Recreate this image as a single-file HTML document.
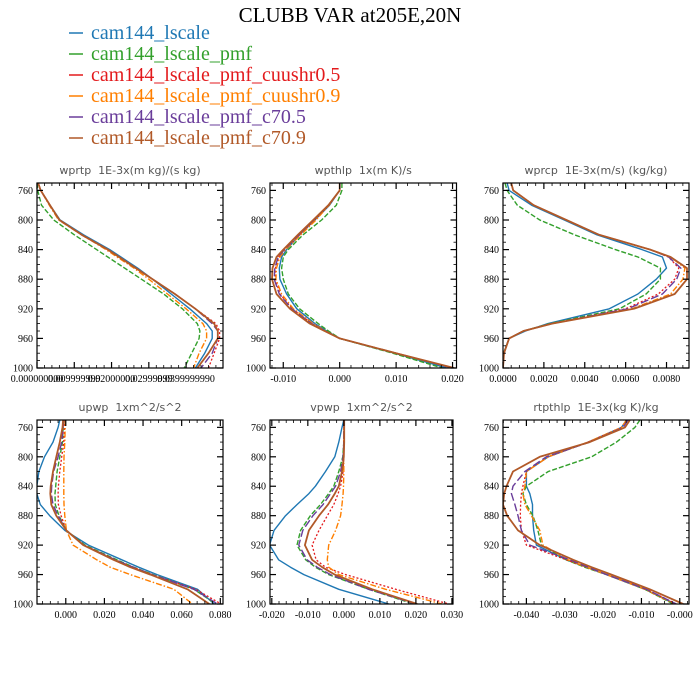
<!DOCTYPE html>
<html><head><meta charset="utf-8"><style>
body{margin:0;background:#fff;width:700px;height:700px;overflow:hidden}
svg{display:block}
.tl{font-family:"Liberation Serif",serif;font-size:10px;fill:#000}
.pt{font-family:"DejaVu Sans","Liberation Sans",sans-serif;font-size:11px;fill:#555;white-space:pre}
.lg{font-family:"Liberation Serif",serif;font-size:20px}
</style></head><body>
<svg id="chart" width="700" height="700" xmlns="http://www.w3.org/2000/svg" xml:space="preserve">
<text x="350" y="22" text-anchor="middle" font-family="Liberation Serif, serif" font-size="21">CLUBB VAR at205E,20N</text>
<g id="legend"></g>
<g id="panels"></g>
</svg>
<script>
const levels=[750,760,780,800,820,840,850,865,880,900,920,940,950,960,980,1000];
const seriesNames=["cam144_lscale","cam144_lscale_pmf","cam144_lscale_pmf_cuushr0.5","cam144_lscale_pmf_cuushr0.9","cam144_lscale_pmf_c70.5","cam144_lscale_pmf_c70.9"];
const panelTitles=["wprtp  1E-3x(m kg)/(s kg)","wpthlp  1x(m K)/s","wprcp  1E-3x(m/s) (kg/kg)","upwp  1xm^2/s^2","vpwp  1xm^2/s^2","rtpthlp  1E-3x(kg K)/kg"];
const yTicks=[760,800,840,880,920,960,1000];
const xTicks1=[0,0.01,0.02,0.03,0.04];
const xTickLabels1=["0.000000000","0.009999999","0.02000000","0.02999999","0.0399999990"];
const xTicks2=[-0.01,0,0.01,0.02];
const xTickLabels2=["-0.010","0.000","0.010","0.020"];
const xTicks3=[0,0.002,0.004,0.006,0.008];
const xTickLabels3=["0.0000","0.0020","0.0040","0.0060","0.0080"];
const xTicks4=[0,0.02,0.04,0.06,0.08];
const xTickLabels4=["0.000","0.020","0.040","0.060","0.080"];
const xTicks5=[-0.02,-0.01,0,0.01,0.02,0.03];
const xTickLabels5=["-0.020","-0.010","0.000","0.010","0.020","0.030"];
const xTicks6=[-0.04,-0.03,-0.02,-0.01,0];
const xTickLabels6=["-0.040","-0.030","-0.020","-0.010","-0.000"];

// wprtp
const wprtp_lscale=[0.0003,0.001,0.0035,0.0062,0.0125,0.0195,0.0225,0.027,0.031,0.036,0.041,0.0455,0.047,0.047,0.045,0.0425];
const wprtp_pmf=[0,0.0002,0.0012,0.0045,0.010,0.016,0.019,0.0235,0.028,0.034,0.039,0.043,0.0437,0.0435,0.0415,0.0395];
const wprtp_cu05=[0.0003,0.001,0.0035,0.006,0.012,0.019,0.022,0.0265,0.031,0.037,0.0425,0.048,0.049,0.049,0.0475,0.046];
const wprtp_cu09=[0.0003,0.001,0.0033,0.0058,0.012,0.0185,0.0215,0.026,0.030,0.035,0.040,0.0445,0.0455,0.0455,0.0435,0.042];
const wprtp_c705=[0.0003,0.001,0.0035,0.006,0.012,0.019,0.022,0.0265,0.031,0.037,0.0425,0.047,0.0485,0.0485,0.047,0.044];
const wprtp_c709=[0.0003,0.001,0.0035,0.006,0.012,0.019,0.022,0.0265,0.031,0.037,0.0425,0.0475,0.0485,0.0485,0.046,0.043];
// wpthlp
const wpthlp_lscale=[0,0,-0.0018,-0.0044,-0.0071,-0.0094,-0.0103,-0.0107,-0.0106,-0.0094,-0.0076,-0.0044,-0.0023,0,0.0097,0.0190];
const wpthlp_pmf=[0.0004,0.0004,-0.0006,-0.0032,-0.0065,-0.0091,-0.0100,-0.0103,-0.0100,-0.0091,-0.0071,-0.0038,-0.0020,0,0.0094,0.0182];
const wpthlp_cu05=[0,0,-0.0019,-0.0045,-0.0071,-0.0097,-0.0108,-0.0114,-0.0114,-0.0106,-0.0084,-0.0049,-0.0026,0,0.0100,0.0200];
const wpthlp_cu09=[0,0,-0.0019,-0.0042,-0.0069,-0.0096,-0.0106,-0.0112,-0.0113,-0.0103,-0.0082,-0.0047,-0.0025,0,0.0100,0.0200];
const wpthlp_c705=[0,0,-0.0020,-0.0046,-0.0072,-0.0098,-0.0109,-0.0115,-0.0116,-0.0107,-0.0085,-0.0050,-0.0026,0,0.0100,0.0200];
const wpthlp_c709=[0,0,-0.0020,-0.0047,-0.0074,-0.0100,-0.0112,-0.0119,-0.0120,-0.0112,-0.0088,-0.0053,-0.0027,0,0.0100,0.0203];
// wprcp
const wprcp_lscale=[0.0002,0.0003,0.0014,0.0030,0.0046,0.0068,0.0078,0.0080,0.0075,0.0066,0.0052,0.0022,0.0011,0.0003,0.00003,0];
const wprcp_pmf=[0.0001,0.0002,0.0007,0.0018,0.0035,0.0055,0.0066,0.0077,0.0077,0.0070,0.0057,0.0023,0.0010,0.0003,0.00003,0];
const wprcp_cu05=[0.0004,0.0005,0.0015,0.0031,0.0047,0.0072,0.0081,0.0086,0.0084,0.0076,0.0060,0.0024,0.0010,0.0003,0.00005,0];
const wprcp_cu09=[0.0004,0.0005,0.0015,0.0031,0.0047,0.0072,0.0082,0.0089,0.0088,0.0082,0.0063,0.0024,0.0010,0.0003,0.00005,0];
const wprcp_c705=[0.0004,0.0005,0.0015,0.0031,0.0047,0.0072,0.0081,0.0087,0.0085,0.0078,0.0061,0.0024,0.0010,0.0003,0.00005,0];
const wprcp_c709=[0.0004,0.0005,0.0015,0.0031,0.0047,0.0072,0.0082,0.0090,0.0090,0.0084,0.0064,0.0024,0.0010,0.0003,0.00005,0];
// upwp
const upwp_lscale=[-0.0031,-0.0040,-0.0066,-0.0110,-0.0139,-0.0150,-0.0150,-0.0132,-0.0083,-0.0005,0.0117,0.0290,0.0377,0.0473,0.0682,0.0769];
const upwp_pmf=[-0.0010,-0.0014,-0.0017,-0.0031,-0.0045,-0.0052,-0.0056,-0.0054,-0.0035,0.0003,0.0099,0.0264,0.0351,0.0452,0.0664,0.0777];
const upwp_cu05=[-0.0005,-0.0007,-0.0010,-0.0021,-0.0031,-0.0038,-0.0040,-0.0038,-0.0024,0.0003,0.0094,0.0256,0.0348,0.0447,0.0673,0.0804];
const upwp_cu09=[-0.0003,-0.0003,-0.0005,-0.0009,-0.0010,-0.0010,-0.0010,-0.0009,-0.0005,0.0003,0.0038,0.0160,0.0230,0.0334,0.0560,0.0656];
const upwp_c705=[-0.0010,-0.0014,-0.0021,-0.0040,-0.0063,-0.0073,-0.0075,-0.0066,-0.0040,0.0003,0.0094,0.0256,0.0348,0.0447,0.0664,0.0786];
const upwp_c709=[-0.0014,-0.0017,-0.0031,-0.0049,-0.0066,-0.0078,-0.0080,-0.0075,-0.0049,0.0003,0.0090,0.0247,0.0334,0.0438,0.0630,0.0743];
// vpwp
const vpwp_lscale=[0,-0.0005,-0.0014,-0.0025,-0.0051,-0.0079,-0.0097,-0.0130,-0.0162,-0.0194,-0.0206,-0.0181,-0.0148,-0.0111,-0.0014,0.0125];
const vpwp_pmf=[0.0001,0.0001,0,-0.0003,-0.0014,-0.0028,-0.0042,-0.0065,-0.0093,-0.0120,-0.0130,-0.0106,-0.0079,-0.0042,0.0069,0.0194];
const vpwp_cu05=[0,0,0,0,-0.0002,-0.0009,-0.0016,-0.0028,-0.0046,-0.0069,-0.0088,-0.0077,-0.0051,0.0005,0.0144,0.0292];
const vpwp_cu09=[0,0,0,0,0,-0.0001,-0.0002,-0.0005,-0.0009,-0.0023,-0.0042,-0.0046,-0.0042,-0.0014,0.0116,0.0273];
const vpwp_c705=[0,0,0,-0.0002,-0.0009,-0.0023,-0.0037,-0.0058,-0.0086,-0.0114,-0.0125,-0.0102,-0.0074,-0.0037,0.0069,0.0199];
const vpwp_c709=[0.0001,0.0001,0.0001,0,-0.0005,-0.0014,-0.0025,-0.0044,-0.0069,-0.0097,-0.0108,-0.0088,-0.0060,-0.0025,0.0079,0.0204];
// rtpthlp
const rtpthlp_lscale=[-0.0139,-0.0152,-0.0239,-0.0343,-0.0400,-0.0400,-0.0391,-0.0384,-0.0384,-0.0381,-0.0374,-0.0296,-0.0243,-0.0191,-0.0091,-0.0013];
const rtpthlp_pmf=[-0.0104,-0.0117,-0.0165,-0.0230,-0.0343,-0.0400,-0.0409,-0.0400,-0.0383,-0.0370,-0.0361,-0.0296,-0.0248,-0.0191,-0.0091,-0.0017];
const rtpthlp_cu05=[-0.0139,-0.0152,-0.0239,-0.0343,-0.0400,-0.0409,-0.0413,-0.0415,-0.0416,-0.0413,-0.0400,-0.0296,-0.0243,-0.0191,-0.0087,-0.0009];
const rtpthlp_cu09=[-0.0139,-0.0152,-0.0239,-0.0343,-0.0400,-0.0404,-0.0409,-0.0404,-0.0387,-0.0365,-0.0357,-0.0291,-0.0243,-0.0191,-0.0091,-0.0013];
const rtpthlp_c705=[-0.0135,-0.0148,-0.0235,-0.0348,-0.0404,-0.0435,-0.0439,-0.0430,-0.0422,-0.0413,-0.0391,-0.0287,-0.0239,-0.0191,-0.0087,-0.0009];
const rtpthlp_c709=[-0.0130,-0.0143,-0.0235,-0.0365,-0.0435,-0.0452,-0.0458,-0.0461,-0.0450,-0.0422,-0.0365,-0.0278,-0.0230,-0.0178,-0.0078,0.0009];

const NS="http://www.w3.org/2000/svg";
const colors=["#1f78b4","#33a02c","#e31a1c","#ff7f00","#6a3d9a","#b15928"];
const dashes=["","5,2","2,2","6,2,1.5,2","8,3",""];
const widths=[1.4,1.4,1.3,1.4,1.4,1.8];
function mk(tag,attrs,parent){const e=document.createElementNS(NS,tag);for(const k in attrs)e.setAttribute(k,attrs[k]);parent.appendChild(e);return e;}

const panels=[
 {box:[37,183,223,368],xd:[0,0.0499],ticks:xTicks1,labels:xTickLabels1,minor:0.002,series:[wprtp_lscale,wprtp_pmf,wprtp_cu05,wprtp_cu09,wprtp_c705,wprtp_c709],name:"wprtp"},
 {box:[270,183,456.5,368],xd:[-0.01235,0.0207],ticks:xTicks2,labels:xTickLabels2,minor:0.002,series:[wpthlp_lscale,wpthlp_pmf,wpthlp_cu05,wpthlp_cu09,wpthlp_c705,wpthlp_c709],name:"wpthlp"},
 {box:[503,183,689,368],xd:[0,0.0091],ticks:xTicks3,labels:xTickLabels3,minor:0.0004,series:[wprcp_lscale,wprcp_pmf,wprcp_cu05,wprcp_cu09,wprcp_c705,wprcp_c709],name:"wprcp"},
 {box:[37,420,223,604],xd:[-0.0149,0.0814],ticks:xTicks4,labels:xTickLabels4,minor:0.004,series:[upwp_lscale,upwp_pmf,upwp_cu05,upwp_cu09,upwp_c705,upwp_c709],name:"upwp"},
 {box:[270,420,453,604],xd:[-0.0205,0.0303],ticks:xTicks5,labels:xTickLabels5,minor:0.002,series:[vpwp_lscale,vpwp_pmf,vpwp_cu05,vpwp_cu09,vpwp_c705,vpwp_c709],name:"vpwp"},
 {box:[503,420,689,604],xd:[-0.0461,0.0024],ticks:xTicks6,labels:xTickLabels6,minor:0.002,series:[rtpthlp_lscale,rtpthlp_pmf,rtpthlp_cu05,rtpthlp_cu09,rtpthlp_c705,rtpthlp_c709],name:"rtpthlp"}
];
const svg=document.getElementById('chart');
const root=document.getElementById('panels');
const yMin=750,yMax=1000;
panels.forEach((p,pi)=>{
 const [x0,y0,x1,y1]=p.box;
 const g=mk('g',{},root);
 
 
 const sx=v=>x0+(v-p.xd[0])/(p.xd[1]-p.xd[0])*(x1-x0);
 const sy=v=>y0+(v-yMin)/(yMax-yMin)*(y1-y0);
 const t=mk('text',{x:(x0+x1)/2,y:y0-9,'text-anchor':'middle',class:'pt'},g);
 t.textContent=panelTitles[pi];
 
 
 const clipId='clip'+pi;
 const cp=mk('clipPath',{id:clipId},g);
 mk('rect',{x:x0,y:y0,width:x1-x0,height:y1-y0},cp);
 const lines=mk('g',{'clip-path':'url(#'+clipId+')'},g);
 p.series.forEach((arr,si)=>{
  const pts=arr.map((v,i)=>sx(v).toFixed(1)+','+sy(levels[i]).toFixed(1)).join(' ');
  const pl=mk('polyline',{points:pts,fill:'none',stroke:colors[si],'stroke-width':widths[si],'stroke-dasharray':dashes[si]||'none','stroke-linejoin':'round'},lines);
  
  
 });
 const fr=mk('rect',{x:x0,y:y0,width:x1-x0,height:y1-y0,fill:'none',stroke:'#000','stroke-width':1.2},g);
 
 
 for(let v=750;v<=1000;v+=10){
  const y=sy(v);const major=yTicks.includes(v);const L=major?6:3;
  mk('line',{x1:x0,x2:x0+L,y1:y,y2:y,stroke:'#000','stroke-width':major?1.2:0.8},g);
  mk('line',{x1:x1,x2:x1-L,y1:y,y2:y,stroke:'#000','stroke-width':major?1.2:0.8},g);
 }
 yTicks.forEach(v=>{
  const tt=mk('text',{x:x0-4,y:sy(v)+3.5,'text-anchor':'end',class:'tl'},g);
  tt.textContent=v;
  
  
 });
 const start=Math.ceil(p.xd[0]/p.minor-1e-6);
 for(let k=start;k*p.minor<=p.xd[1]+1e-9;k++){
  const v=k*p.minor;const x=sx(v);
  const major=p.ticks.some(tv=>Math.abs(tv-v)<p.minor/10);const L=major?6:3;
  mk('line',{x1:x,x2:x,y1:y1,y2:y1-L,stroke:'#000','stroke-width':major?1.2:0.8},g);
  mk('line',{x1:x,x2:x,y1:y0,y2:y0+L,stroke:'#000','stroke-width':major?1.2:0.8},g);
 }
 p.ticks.forEach((v,i)=>{
  const tt=mk('text',{x:sx(v),y:y1+14,'text-anchor':'middle',class:'tl'},g);
  tt.textContent=p.labels[i];
  
  
 });
});
const lg=document.getElementById('legend');
seriesNames.forEach((n,i)=>{
 const y=33+i*21;
 const ln=mk('line',{x1:69,x2:83,y1:y,y2:y,stroke:colors[i],'stroke-width':1.5},lg);
 
 
 const tx=mk('text',{x:91,y:y+6,class:'lg',fill:colors[i]},lg);
 tx.textContent=n;
 
 
});
</script>
</body></html>
